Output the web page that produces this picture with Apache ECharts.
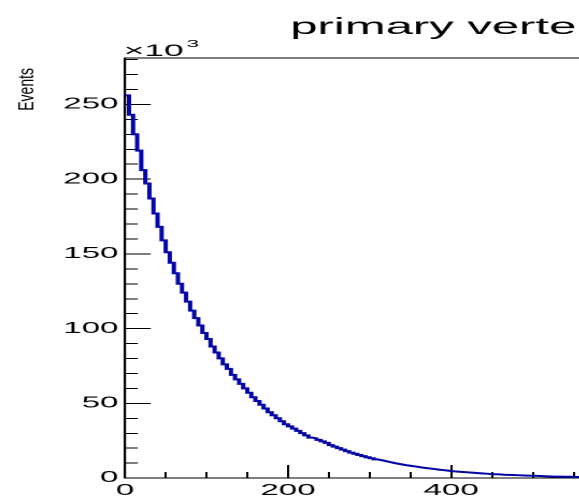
<!DOCTYPE html>
<html>
<head>
<meta charset="utf-8">
<script src="https://cdn.jsdelivr.net/npm/echarts@6/dist/echarts.min.js"></script>
<style>
  html, body { margin: 0; padding: 0; overflow: hidden; background: #fff; }
  /* the reference is stretched sideways: draw at 2x, then squash height and widen */
  #chart { width: 600px; height: 1000px; transform: scale(1.075, 0.5); transform-origin: 0 0; }
</style>
</head>
<body>
<div id="chart"></div>
<script>
// events per 5-unit bin, in thousands (axis shows x10^3)
const binWidth = 5
const events = [
    256, 243, 230, 219, 206, 197, 187, 177, 168, 159,
    151, 144, 137, 130, 124, 118, 112, 107, 102, 97,
    93, 88, 84, 80, 76, 73, 69, 66, 63, 60,
    57, 54, 51.5, 49, 46.5, 44, 42, 40, 38, 36,
    34.5, 33, 31.5, 30, 28.5, 27, 26.5, 25.5, 24.5, 23.5,
    22, 21, 20, 19, 18, 17, 16.2, 15.4, 14.6, 13.9,
    13.2, 12.5, 11.9, 11.3, 10.7, 10.1, 9.6, 9.1, 8.6, 8.2,
    7.8, 7.4, 7.0, 6.6, 6.3, 6.0, 5.6, 5.3, 5.0, 4.7,
    4.4, 4.2, 4.0, 3.8, 3.6, 3.4, 3.2, 3.0, 2.8, 2.6,
    2.5, 2.4, 2.2, 2.1, 2.0, 1.9, 1.8, 1.7, 1.6, 1.5,
    1.4, 1.3, 1.2, 1.1, 1.0, 0.95, 0.9, 0.85, 0.8, 0.75,
    0.7, 0.66, 0.62, 0.58, 0.55, 0.52, 0.49, 0.46, 0.43, 0.4
]
const xTicks = [0, 200, 400, 600]
const yTicks = [0, 50, 100, 150, 200, 250]

const font = 'Liberation Sans, Arial, Helvetica, sans-serif'

// left edges of bins, closing point at the last edge for the step line
const histData = events.map((v, i) => [i * binWidth, v])
histData.push([events.length * binWidth, events[events.length - 1]])

const myChart = echarts.init(document.getElementById('chart'))
const grid = { left: 116.2, right: 12.2, top: 116, bottom: 44, show: true, borderColor: '#000', borderWidth: 2 }

const option = {
    animation: false,
    backgroundColor: '#fff',
    title: {
        text: 'primary verte',
        left: 270,
        top: 32,
        padding: 0,
        textStyle: { fontFamily: font, fontSize: 45.6, fontWeight: 'normal', color: '#000' }
    },
    grid: grid,
    graphic: [
        {
            type: 'text', x: 15.2, y: 136, rotation: Math.PI / 2, scaleY: 0.75,
            style: { text: 'Events', font: 'normal 28px "Liberation Sans"', fill: '#000', align: 'right', verticalAlign: 'top' }
        },
        {
            type: 'text', left: 115, top: 86,
            style: { text: '×10', font: 'normal 33px "Liberation Sans"', fill: '#000' }
        },
        {
            type: 'text', left: 173.5, top: 78,
            style: { text: '3', font: 'normal 21px "Liberation Sans"', fill: '#000' }
        }
    ],
    xAxis: [
        {
            type: 'value', min: xTicks[0], max: xTicks[xTicks.length - 1], interval: 200,
            axisLine: { lineStyle: { color: '#000', width: 2 } },
            axisTick: { inside: true, length: 26, lineStyle: { color: '#000', width: 2 } },
            axisLabel: {
                margin: 10, fontFamily: font, fontSize: 30.8, color: '#000',
                formatter: v => (xTicks.includes(v) ? String(v) : '')
            },
            splitLine: { show: false }
        },
        {
            type: 'value', min: xTicks[0], max: xTicks[xTicks.length - 1], interval: 50,
            position: 'bottom',
            axisLine: { show: false },
            axisTick: { inside: true, length: 12, lineStyle: { color: '#000', width: 2 } },
            axisLabel: { show: false },
            splitLine: { show: false }
        }
    ],
    yAxis: [
        {
            type: 'value', min: 0, max: 281, interval: 50,
            axisLine: { show: true, lineStyle: { color: '#000', width: 2 } },
            axisTick: { show: true, inside: true, length: 24, lineStyle: { color: '#000', width: 2 } },
            axisLabel: {
                margin: 6, fontFamily: font, fontSize: 30.8, color: '#000',
                formatter: v => (yTicks.includes(v) ? String(v) : '')
            },
            splitLine: { show: false }
        },
        {
            type: 'value', min: 0, max: 281, interval: 10,
            position: 'left',
            axisLine: { show: false },
            axisTick: { show: true, inside: true, length: 12, lineStyle: { color: '#000', width: 2 } },
            axisLabel: { show: false },
            splitLine: { show: false }
        }
    ],
    series: [
        {
            name: 'Events',
            type: 'line',
            step: 'end',
            symbol: 'none',
            data: histData,
            lineStyle: { color: '#0505a5', width: 4, join: 'miter', cap: 'butt' }
        }
    ]
}
myChart.setOption(option)
</script>
</body>
</html>
